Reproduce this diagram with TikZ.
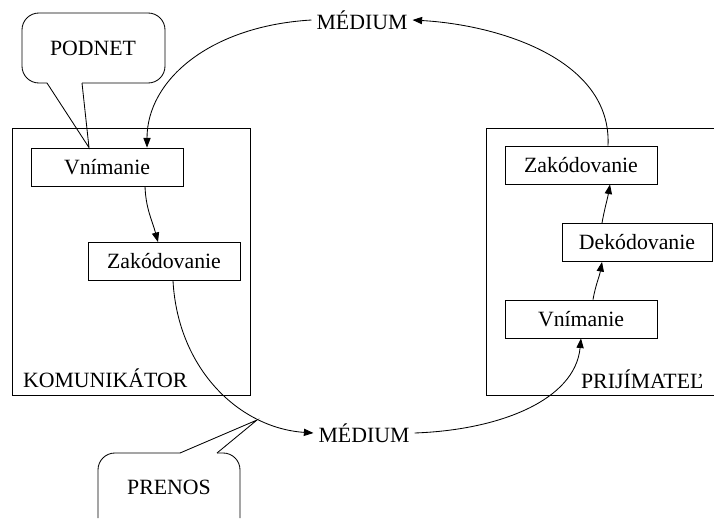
\documentclass[tikz,border=0pt]{standalone}
\usepackage{fontspec}
\setmainfont{Liberation Serif}
\usetikzlibrary{arrows.meta}

\begin{document}
\begin{tikzpicture}[x=0.025cm,y=-0.025cm,line width=0.6pt,
		every node/.style={font=\fontsize{15.5}{18}\selectfont},
		stage/.style={draw,minimum width=3.8cm,minimum height=0.95cm,inner sep=2pt},
		flow/.style={-{Triangle[length=2.4mm,width=1.8mm]}}]
		\useasboundingbox (0,0) rectangle (714,518);
		\draw (12,128) rectangle (250,395);
		\draw (714,128) -- (486,128) -- (486,395) -- (714,395);
		\node[stage] (vnimanieL) at (107,167) {Vnímanie};
		\node[stage] (zakodL) at (164,261.5) {Zakódovanie};
		\node[stage] (vnimanieR) at (581,319) {Vnímanie};
		\node[stage,minimum width=3.75cm] (dekodR) at (637,242.5) {Dekódovanie};
		\node[stage] (zakodR) at (581,165) {Zakódovanie};
		\node[anchor=west] (komunikator) at (18,378) {KOMUNIKÁTOR};
		\node[anchor=west] (prijimatel) at (576,379) {PRIJÍMATEĽ};
		\node (mediumT) at (362,20) {MÉDIUM};
		\node (mediumB) at (364,433) {MÉDIUM};
		\node (podnet) at (93,48) {PODNET};
		\node (prenos) at (169,487) {PRENOS};
		\draw[rounded corners=12] (47,83) -- (22,83) -- (22,13) -- (165,13) -- (165,83) -- (82,83);
		\draw (47,83) -- ([xshift=-0.45cm]vnimanieL.north) -- (82,83);
		\draw[rounded corners=12] (180,453) -- (98,453) -- (98,518);
		\draw[rounded corners=12] (217,453) -- (240,453) -- (240,518);
		\draw (180,453) -- (257,420) -- (217,453);
		\draw[flow] (mediumT.west) .. controls (210,26) and (147,80) .. ([xshift=1cm]vnimanieL.north);
		\draw[flow] ([xshift=0.95cm]vnimanieL.south) to[out=-88,in=105] ([xshift=-0.15cm]zakodL.north);
		\draw[flow] ([xshift=0.225cm]zakodL.south) .. controls (178,370) and (240,428) .. (mediumB.west);
		\draw[flow] (mediumB.east) .. controls (500,430) and (575,400) .. (vnimanieR.south);
		\draw[flow] ([xshift=0.3cm]vnimanieR.north) to[out=80,in=-100] ([xshift=-0.875cm]dekodR.south);
		\draw[flow] ([xshift=-0.875cm]dekodR.north) to[out=80,in=-100] ([xshift=0.725cm]zakodR.south);
		\draw[flow] ([xshift=0.675cm]zakodR.north) .. controls (612,60) and (500,25) .. (mediumT.east);
	\end{tikzpicture}
\end{document}
